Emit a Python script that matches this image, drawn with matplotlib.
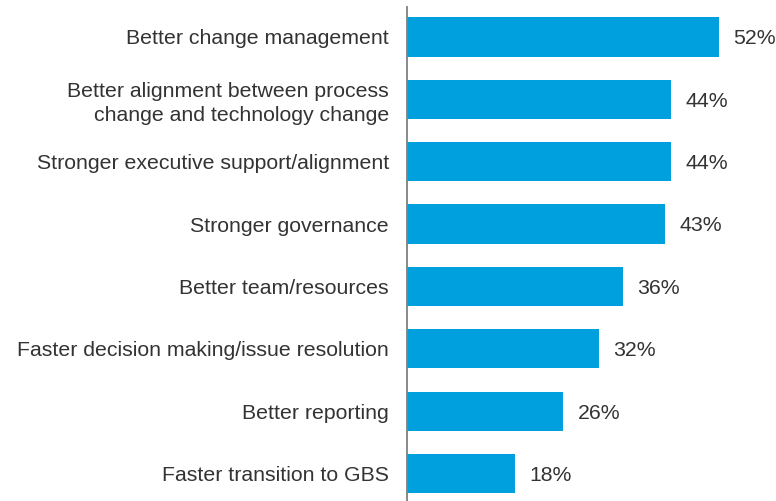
import matplotlib
matplotlib.use("Agg")
import matplotlib.pyplot as plt

# ── Data ────────────────────────────────────────────────────────────────────
categories = [
    "Better change management",
    "Better alignment between process\nchange and technology change",
    "Stronger executive support/alignment",
    "Stronger governance",
    "Better team/resources",
    "Faster decision making/issue resolution",
    "Better reporting",
    "Faster transition to GBS",
]
values = [52, 44, 44, 43, 36, 32, 26, 18]

BAR_COLOR = "#00A0DE"
TEXT_COLOR = "#333333"

plt.rcParams.update({
    "font.family": ["Liberation Sans", "DejaVu Sans"],
    "font.size": 15,
})

fig = plt.figure(figsize=(7.76, 5.01), dpi=100)
ax = fig.add_axes([407 / 776, 0, 1 - 407 / 776, 1 - 7 / 501])

y = list(range(len(categories)))
bars = ax.barh(y, values, height=0.63, color=BAR_COLOR, edgecolor="none")

for bar, val in zip(bars, values):
    ax.text(bar.get_width() + 2.4, bar.get_y() + bar.get_height() / 2 + 0.03,
            f"{val}%", va="center", ha="left", fontsize=15.3, color=TEXT_COLOR)

ax.set_yticks(y)
ax.set_yticklabels(categories, fontsize=15.3, color=TEXT_COLOR, linespacing=1.3)
ax.tick_params(axis="y", length=0, pad=13)
ax.set_xticks([])

ax.set_xlim(0, 61.5)
ax.set_ylim(7.44, -0.48)

for side in ["top", "right", "bottom"]:
    ax.spines[side].set_visible(False)
ax.spines["left"].set_color("#808080")
ax.spines["left"].set_linewidth(1.3)

fig.savefig("out.png", dpi=100, facecolor="white")
plt.close(fig)
